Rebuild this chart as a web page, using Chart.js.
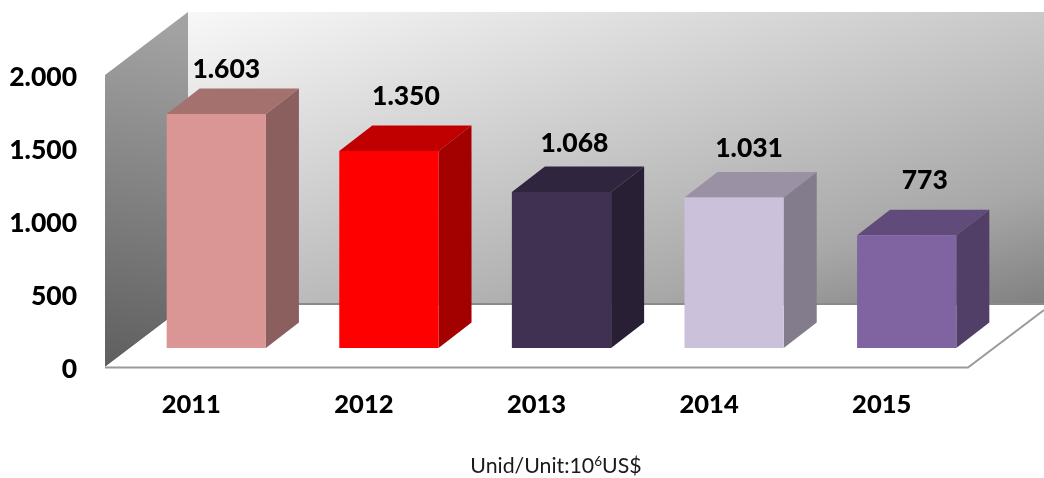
<!DOCTYPE html>
<html>
<head>
<meta charset="utf-8">
<script src="https://cdn.jsdelivr.net/npm/chart.js@4"></script>
<style>
html,body{margin:0;padding:0;background:#fff;width:1044px;height:478px;overflow:hidden}
#wrap{position:relative;width:1044px;height:478px}
canvas{display:block}
#unit{position:absolute;left:370px;width:372px;top:452px;text-align:center;font:21.3px Lato,sans-serif;color:#1a1a1a;line-height:26px}
#unit sup{font-size:13.5px;line-height:0;vertical-align:7px}
</style>
</head>
<body>
<div id="wrap">
<canvas id="c" width="1044" height="478"></canvas>
<div id="unit">Unid/Unit:10<sup>6</sup>US$</div>
</div>
<script>
const categories = ['2011','2012','2013','2014','2015'];
const values = [1603,1350,1068,1031,773];
const yTicks = [0,500,1000,1500,2000];
const frontColors = ['#d99694','#ff0000','#403152','#ccc1da','#8064a2'];
const topColors = ['#a5716f','#c00000','#30253e','#9a91a5','#604b7b'];
const sideColors = ['#8b5f5e','#a30000','#291f35','#827c8c','#523f68'];

const FONT = 'Lato, sans-serif';
const BAR_SHIFT = {x:25, y:-19};
const BAR_DEPTH = {x:33, y:-25.5};
const WALL_DEPTH = {x:83, y:-63};
const labelNudge = [{x:10,y:-45},{x:17,y:-54},{x:13,y:-49},{x:15,y:-49},{x:18,y:-55}];

function fmt(v){ return String(v).replace(/\B(?=(\d{3})+$)/g,'.'); }
function poly(ctx, pts, fill){
  ctx.beginPath();
  pts.forEach((p,i)=> i?ctx.lineTo(p[0],p[1]):ctx.moveTo(p[0],p[1]));
  ctx.closePath();
  if(fill){ctx.fillStyle=fill;ctx.fill();}
}

const scene = {
  id:'scene',
  beforeDatasetsDraw(chart){
    const {ctx, chartArea:a, width} = chart;
    const wx = a.left+WALL_DEPTH.x, wTop = a.top+WALL_DEPTH.y, wBot = a.bottom+WALL_DEPTH.y;
    ctx.save();
    // back wall
    let g = ctx.createLinearGradient(wx,wTop,wx+144,wTop+499);
    g.addColorStop(0,'#f8f8f8'); g.addColorStop(0.78,'#a8a8a8'); g.addColorStop(1,'#808080');
    ctx.fillStyle=g; ctx.fillRect(wx,wTop,width-wx,wBot-wTop);
    // left wall
    g = ctx.createLinearGradient(wx-10,wTop+20,a.left+10,a.bottom);
    g.addColorStop(0,'#a2a2a2'); g.addColorStop(1,'#5f5f5f');
    poly(ctx,[[a.left,a.top],[wx,wTop],[wx,wBot],[a.left,a.bottom]],g);
    // floor
    poly(ctx,[[a.left,a.bottom],[wx,wBot],[width,wBot],[width,a.bottom-57],[a.right,a.bottom]],'#ffffff');
    ctx.strokeStyle='#9a9a9a'; ctx.lineWidth=2;
    ctx.beginPath(); ctx.moveTo(a.left,a.bottom+0.5); ctx.lineTo(a.right,a.bottom+0.5); ctx.lineTo(width,a.bottom-57); ctx.stroke();
    ctx.beginPath(); ctx.moveTo(wx,wBot); ctx.lineTo(width,wBot); ctx.strokeStyle='#8a8a8a'; ctx.stroke();
    ctx.restore();
  },
  beforeDatasetDraw(chart){
    const ctx = chart.ctx;
    ctx.save();
    ctx.translate(BAR_SHIFT.x,BAR_SHIFT.y);
    chart.getDatasetMeta(0).data.forEach((b,i)=>{
      const l=b.x-b.width/2, r=b.x+b.width/2, t=b.y, bt=b.base, dx=BAR_DEPTH.x, dy=BAR_DEPTH.y;
      poly(ctx,[[l,t],[l+dx,t+dy],[r+dx,t+dy],[r,t]],topColors[i]);
      poly(ctx,[[r,t],[r+dx,t+dy],[r+dx,bt+dy],[r,bt]],sideColors[i]);
    });
  },
  afterDatasetDraw(chart){
    chart.ctx.restore();
  },
  afterDatasetsDraw(chart){
    const ctx = chart.ctx;
    ctx.save();
    ctx.font='900 26.5px '+FONT; ctx.fillStyle='#000';
    ctx.textAlign='center'; ctx.textBaseline='middle';
    chart.getDatasetMeta(0).data.forEach((b,i)=>{
      ctx.fillText(fmt(values[i]), b.x+BAR_SHIFT.x+labelNudge[i].x, b.y+BAR_SHIFT.y+labelNudge[i].y);
    });
    ctx.restore();
  }
};

new Chart(document.getElementById('c'),{
  type:'bar',
  data:{labels:categories,datasets:[{data:values,backgroundColor:frontColors,barPercentage:0.575,categoryPercentage:1,borderWidth:0}]},
  plugins:[scene],
  options:{
    responsive:false,animation:false,
    layout:{padding:{top:75,right:76,left:0,bottom:0}},
    plugins:{legend:{display:false},tooltip:{enabled:false},title:{display:false}},
    scales:{
      x:{
        grid:{display:false,drawTicks:false},border:{display:false},
        ticks:{color:'#000',font:{family:FONT,size:25.5,weight:'900'},padding:22,maxRotation:0},
        afterFit(s){s.height=111;}
      },
      y:{
        min:0,max:2000,
        grid:{display:false,drawTicks:false},border:{display:false},
        afterBuildTicks(s){s.ticks=yTicks.map(v=>({value:v}));},
        ticks:{color:'#000',font:{family:FONT,size:26.5,weight:'900'},padding:28,labelOffset:2,callback:v=>fmt(v)},
        afterFit(s){s.width=105;}
      }
    }
  }
});
</script>
</body>
</html>
